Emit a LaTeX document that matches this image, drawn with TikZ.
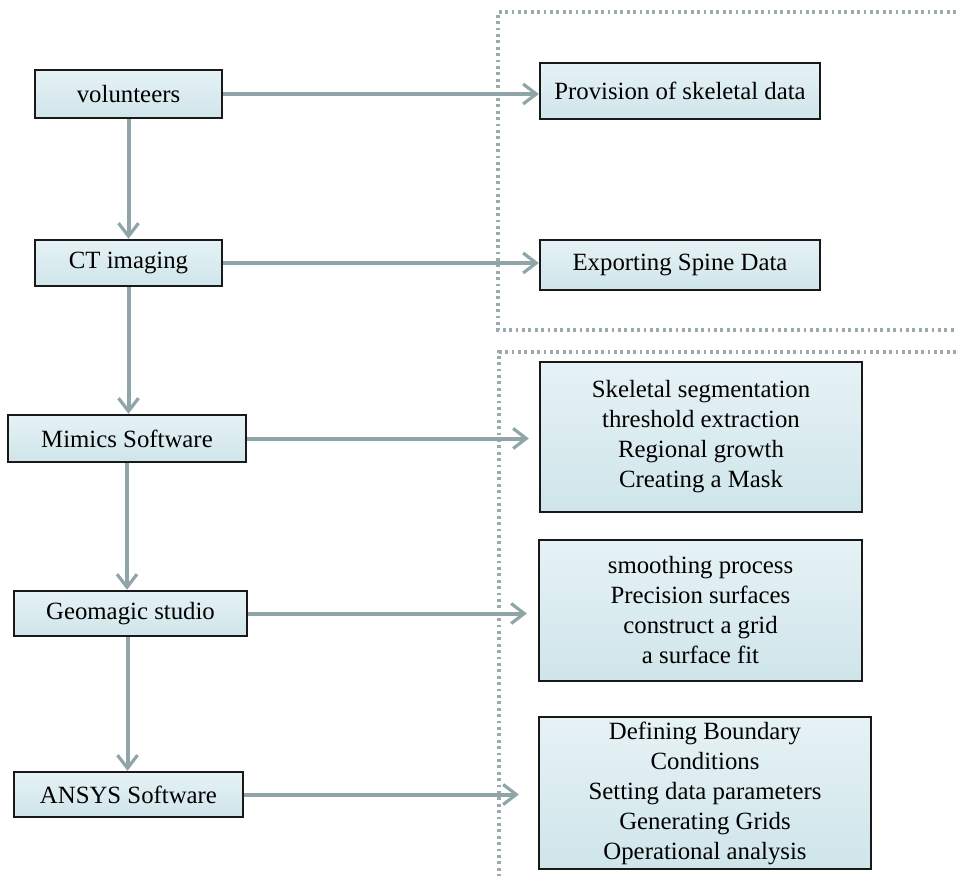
\documentclass[tikz,border=0pt]{standalone}
\usepackage{fontspec}
\setmainfont{Liberation Serif}
\usepackage{tikz}
\usetikzlibrary{arrows.meta, positioning}

\definecolor{boxtop}{HTML}{E6F2F5}
\definecolor{boxbot}{HTML}{CFE5EA}
\definecolor{linkgray}{HTML}{8FA5A8}
\definecolor{framegray}{HTML}{9AAAAD}

\begin{document}
\begin{tikzpicture}[x=0.5pt, y=-0.5pt, every node/.style={font=\fontsize{12.4}{15}\selectfont}, align=center]
    % Define styles for the blocks
    \tikzstyle{stage} = [rectangle, minimum width=93.5pt, minimum height=24pt, inner sep=0pt, text centered, draw=black!90, line width=1.2pt, top color=boxtop, bottom color=boxbot]
    \tikzstyle{task} = [rectangle, inner sep=0pt, text centered, draw=black!90, line width=1.2pt, top color=boxtop, bottom color=boxbot]
    \tikzstyle{link} = [draw=linkgray, line width=2pt, -{Straight Barb[length=6.5pt, width=10pt, line width=1.6pt]}]
    \tikzstyle{frame} = [draw=framegray, line width=2pt, dash pattern=on 1.4pt off 1.8pt]

    \useasboundingbox (0,0) rectangle (956,876);

    % Dotted frames on the right
    \draw [frame] (956,12) -- (498,12) -- (498,330) -- (956,330);
    \draw [frame] (956,352) -- (499,352) -- (499,876);

    % Steps on the left
    \node (volunteers) [stage] at (128.5,94) {volunteers};
    \node (ct) [stage, minimum height=23pt] at (128.5,263) {CT imaging};
    \node (mimics) [stage, minimum width=119pt, minimum height=23.5pt] at (127,438.5) {Mimics Software};
    \node (geomagic) [stage, minimum width=116.5pt, minimum height=22.5pt] at (130.5,613.5) {Geomagic studio};
    \node (ansys) [stage, minimum width=114.5pt, minimum height=22.5pt] at (128.5,794.5) {ANSYS Software};

    % Results on the right
    \node (provision) [task, minimum width=140pt, minimum height=28pt] at (680,91) {Provision of skeletal data};
    \node (exporting) [task, minimum width=140pt, minimum height=25pt] at (680,265) {Exporting Spine Data};
    \node (segment) [task, minimum width=161pt, minimum height=75pt] at (701,437) {Skeletal segmentation\\ threshold extraction\\ Regional growth\\ Creating a Mask};
    \node (smooth) [task, minimum width=161.5pt, minimum height=70.5pt] at (700.5,610.5) {smoothing process\\ Precision surfaces\\ construct a grid\\ a surface fit};
    \node (boundary) [task, minimum width=166pt, minimum height=76pt] at (705,793) {Defining Boundary\\ Conditions\\ Setting data parameters\\ Generating Grids\\ Operational analysis};

    % Arrows down the left
    \draw [link] (volunteers.south) -- (volunteers.south |- ct.north);
    \draw [link] (ct.south) -- (ct.south |- mimics.north);
    \draw [link] (mimics.south) -- (mimics.south |- geomagic.north);
    \draw [link] ([xshift=-1.5pt]geomagic.south) -- ([xshift=-1.5pt]geomagic.south |- ansys.north);

    % Arrows to the right
    \draw [link] (volunteers.east) -- (volunteers.east -| provision.west);
    \draw [link] (ct.east) -- (ct.east -| exporting.west);
    \draw [link, shorten >=5pt] (mimics.east) -- (mimics.east -| segment.west);
    \draw [link, shorten >=5.5pt] (geomagic.east) -- (geomagic.east -| smooth.west);
    \draw [link, shorten >=9.5pt] (ansys.east) -- (ansys.east -| boundary.west);

\end{tikzpicture}
\end{document}
